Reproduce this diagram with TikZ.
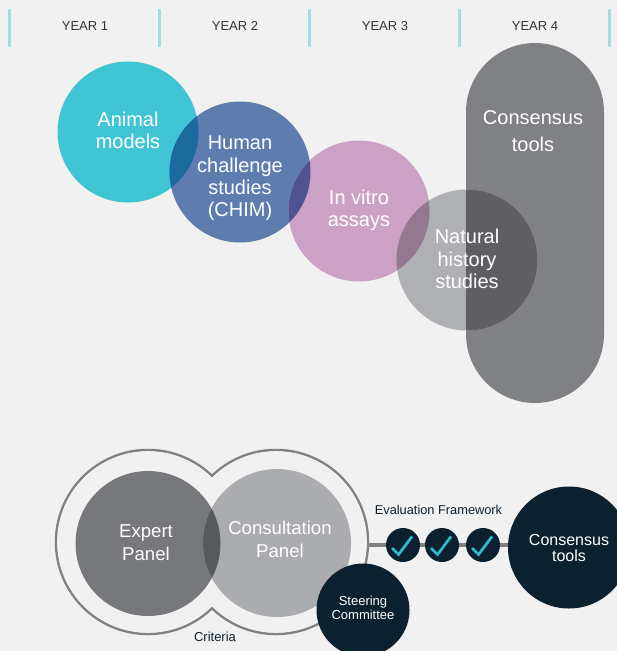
\documentclass[tikz,border=0pt]{standalone}
\usepackage{fontspec}
\setmainfont{Liberation Sans}
\definecolor{pagebg}{HTML}{F1F1F1}
\definecolor{tealc}{HTML}{41C4D3}
\definecolor{bluec}{HTML}{5E7DAE}
\definecolor{pinkc}{HTML}{CBA2C6}
\definecolor{greyc}{HTML}{AFB0B4}
\definecolor{pillc}{HTML}{808184}
\definecolor{expertc}{HTML}{77787B}
\definecolor{consultc}{HTML}{ABACB0}
\definecolor{darkc}{HTML}{0C2130}
\definecolor{tickc}{HTML}{A5DCE4}
\definecolor{markc}{HTML}{2FBBC9}
\definecolor{tealblue}{HTML}{1A6A9C}
\definecolor{bluepink}{HTML}{4E5490}
\definecolor{pinkgrey}{HTML}{93788F}
\definecolor{greypill}{HTML}{5F5F63}
\definecolor{panelmix}{HTML}{58595D}
\tikzset{
  yearlabel/.style={text=black!80,font=\fontsize{13}{15}\selectfont},
  biglabel/.style={text=white,align=center,font=\fontsize{20}{22.3}\selectfont},
  panellabel/.style={text=white,align=center,font=\fontsize{18.6}{23}\selectfont},
  smalllabel/.style={text=darkc,font=\fontsize{13}{14}\selectfont},
  darkcirc/.style={circle,fill=darkc,inner sep=0pt,text=white,align=center},
  checkcirc/.style={darkcirc,minimum size=34pt},
  linkline/.style={draw=pillc,line width=3.2pt}
}
\begin{document}
\begin{tikzpicture}[x=1pt,y=-1pt]
  \useasboundingbox (0,0) rectangle (617,651);
  \fill[pagebg] (0,0) rectangle (617,651);

  \foreach \xt in {9.5,159.5,309.5,459.5,609.5}
    \draw[tickc,line width=3pt] (\xt,9) -- (\xt,47);
  \foreach \xl/\yr in {85/1,235/2,385/3,535/4}
    \node[yearlabel] (year\yr) at (\xl,26) {YEAR \yr};

  \fill[pillc,rounded corners=69pt] (466,43) rectangle (604,403);
  \fill[tealc] (128,132) circle (70.5);
  \fill[bluec] (240,172) circle (70.5);
  \fill[pinkc] (359,211) circle (70.5);
  \fill[greyc] (467,260) circle (70.5);
  \begin{scope}
    \clip (128,132) circle (70.5);
    \fill[tealblue] (240,172) circle (70.5);
  \end{scope}
  \begin{scope}
    \clip (240,172) circle (70.5);
    \fill[bluepink] (359,211) circle (70.5);
  \end{scope}
  \begin{scope}
    \clip (359,211) circle (70.5);
    \fill[pinkgrey] (467,260) circle (70.5);
  \end{scope}
  \begin{scope}
    \clip (467,260) circle (70.5);
    \fill[greypill,rounded corners=69pt] (466,43) rectangle (604,403);
  \end{scope}

  \node[biglabel] (animal) at (128,130.5) {Animal\\models};
  \node[biglabel] (human) at (240,178.5) {Human\\challenge\\studies\\(CHIM)};
  \node[biglabel] (vitro) at (359,210.5) {In vitro\\assays};
  \node[biglabel] (natural) at (467,259) {Natural\\history\\studies};
  \node[biglabel,font=\fontsize{20}{27}\selectfont] (pill) at (533,131) {Consensus\\tools};

  \draw[pillc,line width=2.5pt] (148,542) circle (92);
  \draw[pillc,line width=2.5pt] (276,542) circle (92);
  \fill[pagebg] (148,542) circle (90.8);
  \fill[pagebg] (276,542) circle (90.8);
  \fill[expertc] (148,543.5) circle (72.5);
  \fill[consultc] (277,543) circle (74);
  \begin{scope}
    \clip (148,543.5) circle (72.5);
    \fill[panelmix] (277,543) circle (74);
  \end{scope}
  \node[panellabel] (expert) at (146,543) {Expert\\Panel};
  \node[panellabel] (consult) at (280,539) {Consultation\\Panel};
  \node[smalllabel] (criteria) at (215,637) {Criteria};

  \coordinate (outerright) at (367,545);
  \node[checkcirc] (checkone) at (403,545) {};
  \node[checkcirc] (checktwo) at (442,545) {};
  \node[checkcirc] (checkthree) at (483,545) {};
  \node[darkcirc,minimum size=122pt,font=\fontsize{16}{16}\selectfont] (consensus) at (569,547.5) {Consensus\\tools};
  \node[darkcirc,minimum size=93pt] (steering) at (363,610) {};
  \node[text=white,align=center,font=\fontsize{13}{14}\selectfont] (steeringlabel) at (363,607.5) {Steering\\Committee};
  \draw[linkline] (outerright) -- (checkone);
  \draw[linkline] (checkone) -- (checktwo);
  \draw[linkline] (checktwo) -- (checkthree);
  \draw[linkline] (checkthree) -- (checkthree -| consensus.west);
  \foreach \ck in {checkone,checktwo,checkthree}
    \draw[markc,line width=2.7pt] ([shift={(-11,3)}]\ck.center) -- ([shift={(-4.5,9.5)}]\ck.center) -- ([shift={(9,-8.5)}]\ck.center);
  \node[smalllabel,font=\fontsize{12.8}{14}\selectfont] (evaluation) at (438.5,510) {Evaluation Framework};
\end{tikzpicture}
\end{document}
